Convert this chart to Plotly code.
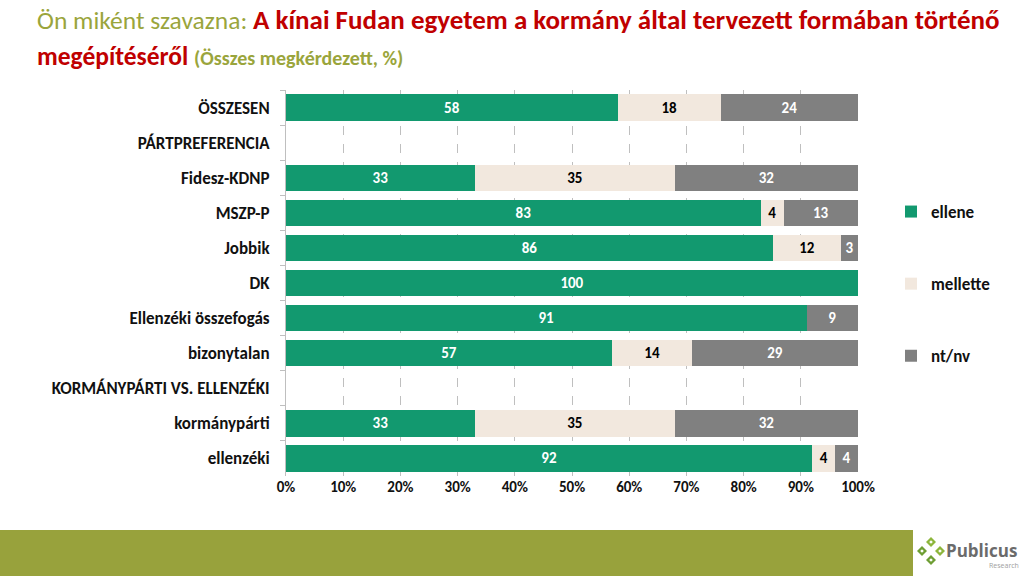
import plotly.graph_objects as go

categories = ["ÖSSZESEN", "PÁRTPREFERENCIA", "Fidesz-KDNP", "MSZP-P", "Jobbik", "DK",
              "Ellenzéki összefogás", "bizonytalan", "KORMÁNYPÁRTI VS. ELLENZÉKI",
              "kormánypárti", "ellenzéki"]
ellene =   [58, None, 33, 83, 86, 100, 91, 57, None, 33, 92]
mellette = [18, None, 35, 4, 12, 0, 0, 14, None, 35, 4]
ntnv =     [24, None, 32, 13, 3, 0, 9, 29, None, 32, 4]
x_ticks = [0, 10, 20, 30, 40, 50, 60, 70, 80, 90, 100]

FONT = "Carlito, Calibri, Lato, sans-serif"
W, H = 1024, 576
L, R, T, B = 286, 166, 90, 100
PW, PH = W - L - R, H - T - B

def px(x):
    return (x - L) / PW

def py(y):
    return (H - B - y) / PH

series = [
    ("ellene", ellene, "#12996F", "white"),
    ("mellette", mellette, "#F2E8DE", "black"),
    ("nt/nv", ntnv, "#808080", "white"),
]

fig = go.Figure()
for i, (name, vals, col, tcol) in enumerate(series):
    txt = ["" if (v is None or v == 0) else str(v) for v in vals]
    fig.add_trace(go.Bar(
        y=categories, x=vals, name=name, orientation="h",
        marker=dict(color=col, line=dict(width=0)),
        text=txt, textposition="inside", insidetextanchor="middle",
        textfont=dict(family=FONT, size=15, color=tcol, weight="bold"),
        constraintext="none", legendgroup=name, cliponaxis=False,
        hoverinfo="skip",
    ))

fig.update_layout(
    width=W, height=H, barmode="stack", barnorm="percent", bargap=0.25,
    margin=dict(l=L, r=R, t=T, b=B),
    plot_bgcolor="white", paper_bgcolor="white",
    font=dict(family=FONT, color="#1a1a1a"),
    showlegend=True,
    legend=dict(x=px(891), y=py(194), xanchor="left", yanchor="top",
                tracegroupgap=47, traceorder="grouped",
                font=dict(family=FONT, size=17, color="#111", weight="bold"),
                itemwidth=30, bgcolor="rgba(0,0,0,0)"),
)

fig.update_xaxes(range=[0, 100], tickvals=x_ticks, ticktext=[f"{v}%" for v in x_ticks],
                 showgrid=True, gridcolor="#BFBFBF", griddash="dash", gridwidth=1,
                 zeroline=False, showline=False, ticks="",
                 tickfont=dict(family=FONT, size=15, color="#111", weight="bold"))
fig.update_yaxes(autorange="reversed", categoryorder="array", categoryarray=categories,
                 showline=True, linecolor="#BFBFBF", linewidth=1,
                 ticks="outside", tickson="boundaries", ticklen=5, tickcolor="#BFBFBF",
                 ticklabelstandoff=12,
                 tickfont=dict(family=FONT, size=17, color="#111", weight="bold"))

# Title
fig.add_annotation(xref="paper", yref="paper", x=px(35), y=py(1), xanchor="left", yanchor="top",
                   showarrow=False, align="left",
                   text="<span style='color:#9AA53C;font-size:25.5px'>Ön miként szavazna: </span>"
                        "<b><span style='color:#C00000'>A kínai Fudan egyetem a kormány által tervezett formában történő</span></b>",
                   font=dict(family=FONT, size=27))
fig.add_annotation(xref="paper", yref="paper", x=px(35), y=py(39), xanchor="left", yanchor="top",
                   showarrow=False, align="left",
                   text="<b><span style='color:#C00000'>megépítéséről</span></b> "
                        "<b><span style='color:#9AA53C;font-size:20px'>(Összes megkérdezett, %)</span></b>",
                   font=dict(family=FONT, size=25.5))

# Bottom band
shapes = [dict(type="rect", xref="paper", yref="paper", x0=px(0), x1=px(913), y0=py(530), y1=py(576),
               fillcolor="#98A23C", line=dict(width=0), layer="above")]

# Logo diamonds
def diamond(cx, cy, r, col):
    pts = [(cx, cy - r), (cx + r, cy), (cx, cy + r), (cx - r, cy)]
    path = "M " + " L ".join(f"{px(a)},{py(b)}" for a, b in pts) + " Z"
    return dict(type="path", xref="paper", yref="paper", path=path,
                fillcolor=col, line=dict(width=0), layer="above")

for (cx, cy, col) in [(931, 542, "#8DB63C"), (922, 551, "#6E9E34"), (940, 551, "#8DB63C"), (931, 560, "#6E9E34")]:
    shapes.append(diamond(cx, cy, 5, col))
    shapes.append(diamond(cx, cy, 1.8, "white"))
fig.update_layout(shapes=shapes)

fig.add_annotation(xref="paper", yref="paper", x=px(944), y=py(550), xanchor="left", yanchor="middle",
                   showarrow=False, text="<b>Publicus</b>",
                   font=dict(family="'Open Sans', sans-serif", size=17, color="#6B6B6B"))
fig.add_annotation(xref="paper", yref="paper", x=px(1021), y=py(565), xanchor="right", yanchor="middle",
                   showarrow=False, text="Research",
                   font=dict(family="'Open Sans', sans-serif", size=7, color="#A0A0A0"))

fig.write_html("out.html", config={"displayModeBar": False},
               post_script="document.body.style.margin='0px';")
